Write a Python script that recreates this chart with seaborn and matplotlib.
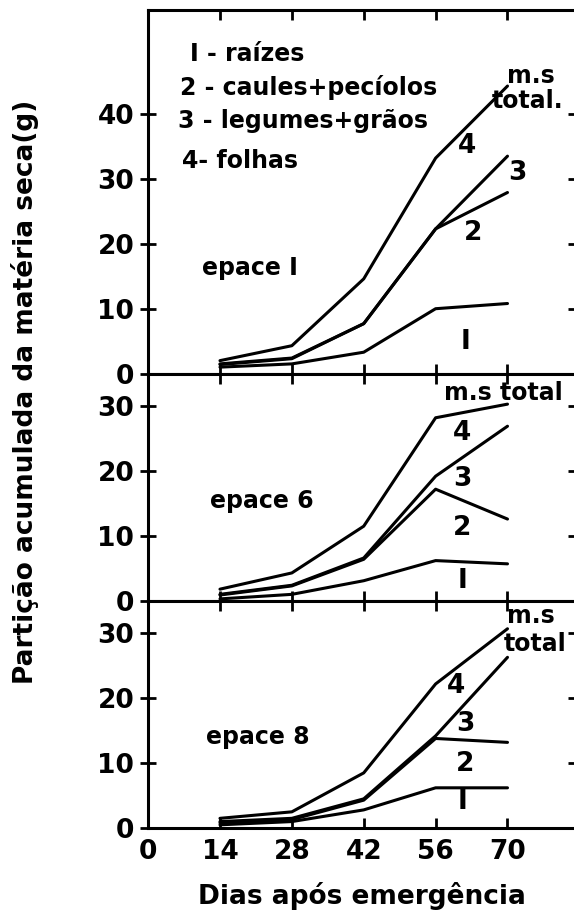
import pandas as pd
import matplotlib.pyplot as plt
import seaborn as sns

# Days after emergence (x axis)
dias = [14, 28, 42, 56, 70]

# Cumulative dry matter curves per cultivar
# curve 1 = raizes, 2 = +caules, 3 = +legumes, total = m.s total
e1_c1 = [1.0, 1.5, 3.3, 10.0, 10.8]
e1_c2 = [1.4, 2.3, 7.7, 22.3, 27.9]
e1_c3 = [1.5, 2.4, 7.7, 22.3, 33.5]
e1_tot = [2.0, 4.3, 14.6, 33.2, 44.3]

e6_c1 = [0.3, 1.0, 3.1, 6.2, 5.7]
e6_c2 = [0.9, 2.3, 6.4, 17.2, 12.6]
e6_c3 = [1.0, 2.4, 6.6, 19.2, 26.9]
e6_tot = [1.8, 4.3, 11.5, 28.2, 30.3]

e8_c1 = [0.5, 1.0, 2.8, 6.2, 6.2]
e8_c2 = [0.8, 1.3, 4.3, 13.8, 13.2]
e8_c3 = [1.0, 1.5, 4.5, 14.2, 26.3]
e8_tot = [1.5, 2.5, 8.5, 22.2, 30.7]

painel_nomes = ["epace I", "epace 6", "epace 8"]
curvas = {
    "epace I": [e1_c1, e1_c2, e1_c3, e1_tot],
    "epace 6": [e6_c1, e6_c2, e6_c3, e6_tot],
    "epace 8": [e8_c1, e8_c2, e8_c3, e8_tot],
}
y_max = [56, 35, 35]
y_ticks = [[0, 10, 20, 30, 40], [0, 10, 20, 30], [0, 10, 20, 30]]
x_ticks = [0, 14, 28, 42, 56, 70]

legenda = ["I - raízes", "2 - caules+pecíolos", "3 - legumes+grãos", "4- folhas"]

# long-form table for seaborn
rows = []
for nome in painel_nomes:
    for k, serie in enumerate(curvas[nome]):
        for d, v in zip(dias, serie):
            rows.append({"painel": nome, "curva": k, "dia": d, "valor": v})
df = pd.DataFrame(rows)

sns.set_style("ticks")
plt.rcParams["font.family"] = ["DejaVu Sans"]
plt.rcParams["font.weight"] = "bold"
plt.rcParams.update({"text.color": "black", "axes.labelcolor": "black",
                     "xtick.color": "black", "ytick.color": "black"})

fig = plt.figure(figsize=(5.74, 9.16), dpi=100)
gs = fig.add_gridspec(3, 1, height_ratios=y_max, hspace=0,
                      left=0.258, right=1.004, bottom=0.096, top=0.989)

fs_tick = 19
fs_lab = 17

for i, nome in enumerate(painel_nomes):
    ax = fig.add_subplot(gs[i])
    sub = df[df["painel"] == nome]
    sns.lineplot(data=sub, x="dia", y="valor", units="curva", estimator=None,
                 color="black", linewidth=2.2, ax=ax)
    ax.set_xlim(0, 83.4)
    ax.set_ylim(0, y_max[i])
    ax.set_yticks(y_ticks[i])
    ax.set_xticks(x_ticks[1:] if i < 2 else x_ticks)
    ax.set_xlabel("")
    ax.set_ylabel("")
    for s in ax.spines.values():
        s.set_linewidth(2.2)
        s.set_color("black")
    ax.tick_params(axis="y", direction="inout", length=12, width=2,
                   labelsize=fs_tick, pad=4)
    ax.tick_params(axis="y", right=True)
    ax.tick_params(axis="x", direction="in", length=7, width=2, labelsize=fs_tick,
                   top=True, pad=8)
    for lbl in ax.get_yticklabels() + ax.get_xticklabels():
        lbl.set_fontweight("bold")
    if i < 2:
        ax.tick_params(axis="x", labelbottom=False)

    if i == 0:
        ax.text(8.2, 49.2, legenda[0], fontsize=fs_lab, fontweight="bold", va="center")
        ax.text(6.2, 44.0, legenda[1], fontsize=fs_lab, fontweight="bold", va="center")
        ax.text(5.8, 38.9, legenda[2], fontsize=fs_lab, fontweight="bold", va="center")
        ax.text(6.6, 32.8, legenda[3], fontsize=fs_lab, fontweight="bold", va="center")
        ax.text(19.9, 16.2, nome, fontsize=fs_lab, fontweight="bold", ha="center", va="center")
        ax.text(74.5, 45.8, "m.s", fontsize=fs_lab, fontweight="bold", ha="center", va="center")
        ax.text(73.9, 42.0, "total.", fontsize=fs_lab, fontweight="bold", ha="center", va="center")
        for t, x, y in [("4", 62.2, 35.1), ("3", 71.9, 30.9), ("2", 63.2, 21.7), ("I", 61.8, 4.8)]:
            ax.text(x, y, t, fontsize=fs_tick, fontweight="bold", ha="center", va="center")
    elif i == 1:
        ax.text(22.2, 15.4, nome, fontsize=fs_lab, fontweight="bold", ha="center", va="center")
        ax.text(69.2, 32.0, "m.s total", fontsize=fs_lab, fontweight="bold", ha="center", va="center")
        for t, x, y in [("4", 61.2, 25.8), ("3", 61.2, 18.8), ("2", 61.2, 11.2), ("I", 61.2, 3.1)]:
            ax.text(x, y, t, fontsize=fs_tick, fontweight="bold", ha="center", va="center")
    else:
        ax.text(21.4, 14.0, nome, fontsize=fs_lab, fontweight="bold", ha="center", va="center")
        ax.text(74.5, 32.6, "m.s", fontsize=fs_lab, fontweight="bold", ha="center", va="center")
        ax.text(75.4, 28.4, "total", fontsize=fs_lab, fontweight="bold", ha="center", va="center")
        for t, x, y in [("4", 60.0, 21.9), ("3", 61.8, 16.0), ("2", 61.8, 9.8), ("I", 61.2, 4.0)]:
            ax.text(x, y, t, fontsize=fs_tick, fontweight="bold", ha="center", va="center")
        ax.set_xlabel("Dias após emergência", fontsize=fs_tick, fontweight="bold", labelpad=12)

fig.text(0.043, 0.572, "Partição acumulada da matéria seca(g)", rotation=90,
         fontsize=fs_tick, fontweight="bold", ha="center", va="center")

plt.savefig("out.png", dpi=100)
plt.close()
